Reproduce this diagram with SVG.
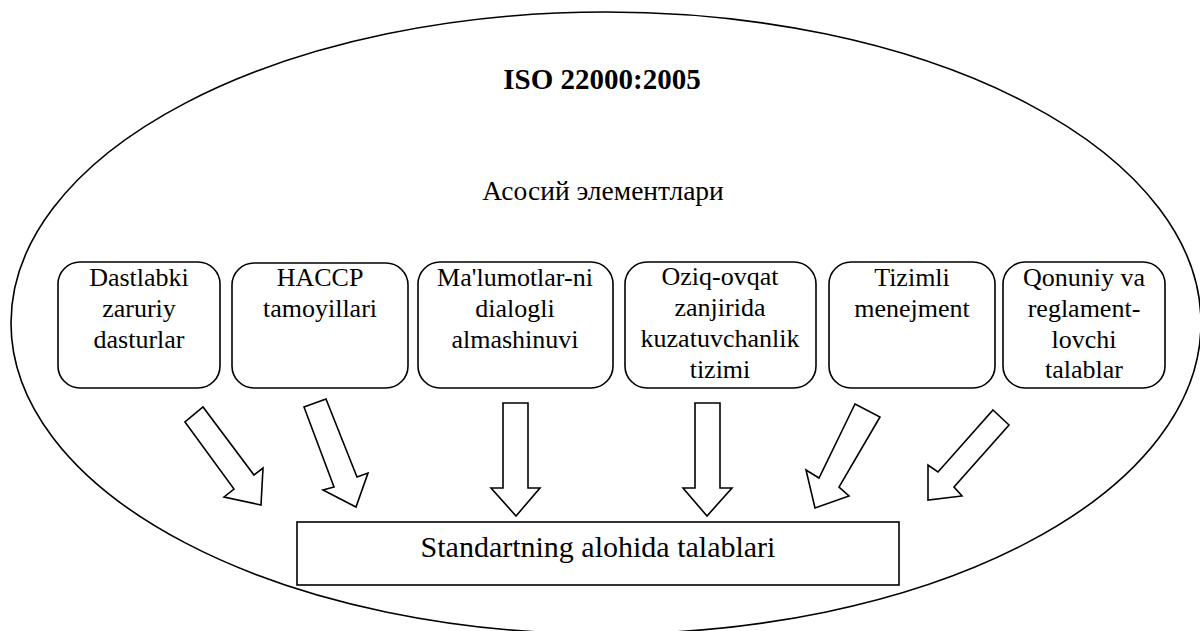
<svg xmlns="http://www.w3.org/2000/svg" width="1200" height="631" viewBox="0 0 1200 631">
<style>
.ln{fill:none;stroke:#000;stroke-width:1.6}
.bx{fill:#fff;stroke:#000;stroke-width:1.6}
.ar{fill:#fff;stroke:#000;stroke-width:1.6;stroke-linejoin:miter}
.t{fill:#000;text-anchor:middle}
.n{font-size:26px}
</style>
<rect width="1200" height="631" fill="#fff"/>
<g id="ellipse"><ellipse class="ln" cx="606" cy="323" rx="595" ry="311"/></g>
<g font-family="'Liberation Serif', 'Times New Roman', 'DejaVu Serif', serif">
<g id="title"><text class="t" x="602" y="89" font-size="29" font-weight="bold">ISO 22000:2005</text></g>
<g id="subtitle"><text class="t" x="603" y="200" font-size="27.5">Асосий элементлари</text></g>
<g id="node1"><rect class="bx" x="58" y="262" width="162" height="126" rx="22"/>
<text class="t n" x="139" y="286">Dastlabki</text><text class="t n" x="139" y="317">zaruriy</text><text class="t n" x="139" y="348">dasturlar</text></g>
<g id="node2"><rect class="bx" x="232" y="263" width="176" height="125" rx="22"/>
<text class="t n" x="320" y="286">HACCP</text><text class="t n" x="320" y="317">tamoyillari</text></g>
<g id="node3"><rect class="bx" x="418" y="262" width="195" height="126" rx="22"/>
<text class="t n" x="515" y="286">Ma'lumotlar-ni</text><text class="t n" x="515" y="317">dialogli</text><text class="t n" x="515" y="348">almashinuvi</text></g>
<g id="node4"><rect class="bx" x="625" y="262" width="191" height="126" rx="22"/>
<text class="t n" x="720" y="285">Oziq-ovqat</text><text class="t n" x="720" y="316">zanjirida</text><text class="t n" x="720" y="347">kuzatuvchanlik</text><text class="t n" x="720" y="378">tizimi</text></g>
<g id="node5"><rect class="bx" x="829" y="262" width="166" height="126" rx="22"/>
<text class="t n" x="912" y="286">Tizimli</text><text class="t n" x="912" y="317">menejment</text></g>
<g id="node6"><rect class="bx" x="1003" y="262" width="162" height="126" rx="22"/>
<text class="t n" x="1084" y="286">Qonuniy va</text><text class="t n" x="1084" y="317">reglament-</text><text class="t n" x="1084" y="348">lovchi</text><text class="t n" x="1084" y="378">talablar</text></g>
<g id="target"><rect class="bx" x="297" y="522" width="602" height="63"/>
<text class="t" x="598" y="557" font-size="30">Standartning alohida talablari</text></g>
</g>
<g id="connectors">
<polygon class="ar" points="185,422 234,489 224,497 261,505 263,468 254,475 203,407"/>
<polygon class="ar" points="304,407 334,487 323,490 356,507 368,473 357,477 326,399"/>
<polygon class="ar" points="503,403 528,403 528,488 540,488 516,516 491,488 503,488"/>
<polygon class="ar" points="695,403 720,403 720,488 732,488 707,516 683,488 695,488"/>
<polygon class="ar" points="855,404 880,417 839,487 849,496 815,508 806,470 819,478"/>
<polygon class="ar" points="993,410 1009,425 954,487 962,496 928,500 928,465 938,472"/>
</g>
</svg>
